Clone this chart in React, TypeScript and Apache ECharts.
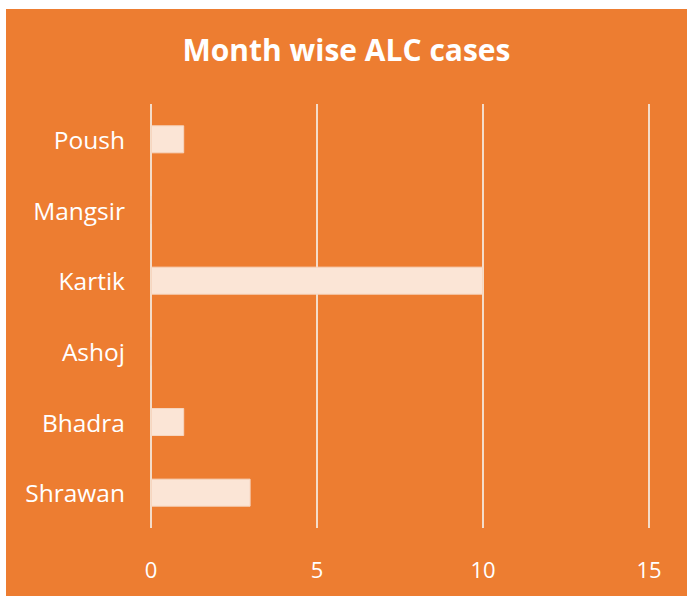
import React, { useEffect, useRef } from "react";
import * as echarts from "echarts";

const categories = ["Shrawan", "Bhadra", "Ashoj", "Kartik", "Mangsir", "Poush"];
const cases = [3, 1, 0, 10, 0, 1];
const xTicks = { min: 0, max: 15, interval: 5 };
const titleText = "Month wise ALC cases";

export default function App() {
  const ref = useRef<HTMLDivElement>(null);
  useEffect(() => {
    const chart = echarts.init(ref.current!, null, { renderer: "svg" });
    const font = "'Open Sans', 'Noto Sans', sans-serif";
    chart.setOption({
      animation: false,
      backgroundColor: "#ED7D31",
      title: {
        text: titleText,
        left: "center",
        top: 20,
        textStyle: { color: "#ffffff", fontSize: 30, fontWeight: "bold", fontFamily: font },
      },
      grid: { left: 145, right: 38, top: 95, bottom: 68, containLabel: false },
      xAxis: {
        type: "value",
        min: xTicks.min,
        max: xTicks.max,
        interval: xTicks.interval,
        axisLine: { show: false },
        axisTick: { show: false },
        splitLine: { show: true, lineStyle: { color: "#F4DCC9", width: 2 } },
        axisLabel: { color: "#ffffff", fontSize: 22, fontFamily: font, margin: 30 },
      },
      yAxis: {
        type: "category",
        data: categories,
        axisLine: { show: false },
        axisTick: { show: false },
        axisLabel: { color: "#ffffff", fontSize: 24.5, fontFamily: font, margin: 26 },
      },
      series: [
        {
          type: "bar",
          data: cases,
          barWidth: 28,
          itemStyle: { color: "#FBE5D6", borderColor: "#F6D6C0", borderWidth: 1 },
        },
      ],
    });
    return () => chart.dispose();
  }, []);
  return (
    <div style={{ position: "fixed", left: 0, top: 0, width: 687, height: 596, background: "#ffffff" }}>
      <div ref={ref} style={{ position: "absolute", left: 6, top: 9, width: 681, height: 587 }} />
    </div>
  );
}
